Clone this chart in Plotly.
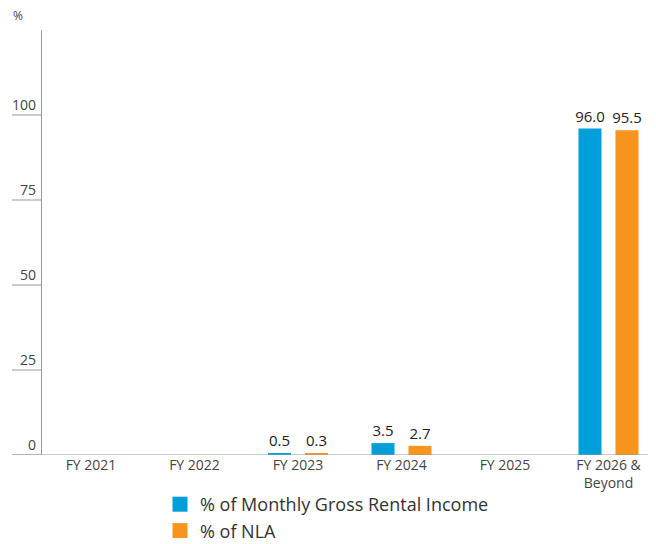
import plotly.graph_objects as go

categories = ["FY 2021", "FY 2022", "FY 2023", "FY 2024", "FY 2025", "FY 2026 &<br>Beyond"]
gri = [0, 0, 0.5, 3.5, 0, 96.0]
nla = [0, 0, 0.3, 2.7, 0, 95.5]
gri_text = ["", "", "0.5", "3.5", "", "96.0"]
nla_text = ["", "", "0.3", "2.7", "", "95.5"]
y_ticks = [0, 25, 50, 75, 100]
series_names = ["% of Monthly Gross Rental Income", "% of NLA"]

BLUE = "#009FDA"
ORANGE = "#F7941D"
FONT = "'Open Sans', Lato, sans-serif"

W, H = 648, 536
ML, MT, MB = 34, 22, 89
PW = W - ML
CAT_W = 103.5
X_LEFT = -(91 - 42) / CAT_W

fig = go.Figure()
for vals, txt, col, name in [(gri, gri_text, BLUE, series_names[0]),
                             (nla, nla_text, ORANGE, series_names[1])]:
    fig.add_trace(go.Bar(x=categories, y=vals, name=name, showlegend=False,
                         marker=dict(color=col, line=dict(width=0)),
                         text=txt, textposition="outside", cliponaxis=False,
                         constraintext="none",
                         textfont=dict(size=15, color="#222222", family=FONT)))
# legend entries with larger square swatches
for col, name in [(BLUE, series_names[0]), (ORANGE, series_names[1])]:
    fig.add_trace(go.Scatter(x=[None], y=[None], mode="markers", name=name,
                             marker=dict(symbol="square", size=15, color=col,
                                         line=dict(width=0))))

shapes = []
annotations = []
for t in y_ticks:
    shapes.append(dict(type="line", xref="paper", yref="y", x0=-30/PW, x1=0, y0=t, y1=t,
                       line=dict(color="#9a9a9a", width=1)))
    annotations.append(dict(xref="paper", yref="y", x=-4/PW, y=t, text=str(t), showarrow=False,
                            xanchor="right", yanchor="bottom", yshift=-1,
                            font=dict(size=14, color="#444444", family=FONT)))
# baseline extended to left
shapes.append(dict(type="line", xref="paper", yref="y", x0=-30/PW, x1=1, y0=0, y1=0,
                   line=dict(color="#9a9a9a", width=1)))
annotations.append(dict(xref="paper", yref="paper", x=-31/PW, y=1, yshift=4, text="%",
                        showarrow=False, xanchor="left", yanchor="bottom",
                        font=dict(size=12, color="#444444", family=FONT)))

fig.update_layout(
    width=W, height=H,
    margin=dict(l=ML, r=0, t=MT, b=MB, autoexpand=False),
    paper_bgcolor="white", plot_bgcolor="white",
    barmode="group", bargap=1 - 74 / CAT_W, bargroupgap=0.378,
    font=dict(family=FONT, color="#444444"),
    shapes=shapes, annotations=annotations,
    legend=dict(orientation="v", xref="container", yref="container",
                x=(160 - 8) / W, y=1 - (486 - 8) / H, xanchor="left", yanchor="top",
                font=dict(size=18, color="#333333", family=FONT),
                tracegroupgap=0, itemsizing="trace"),
    xaxis=dict(showline=False, showgrid=False, ticks="", tickangle=0,
               range=[X_LEFT, X_LEFT + PW / CAT_W],
               tickfont=dict(size=14, color="#444444", family=FONT),
               fixedrange=True, automargin=False),
    yaxis=dict(range=[0, 125], showgrid=False, zeroline=False, showticklabels=False,
               showline=True, linecolor="#9a9a9a", linewidth=1, ticks="", automargin=False),
)

fig.write_html("out.html")
